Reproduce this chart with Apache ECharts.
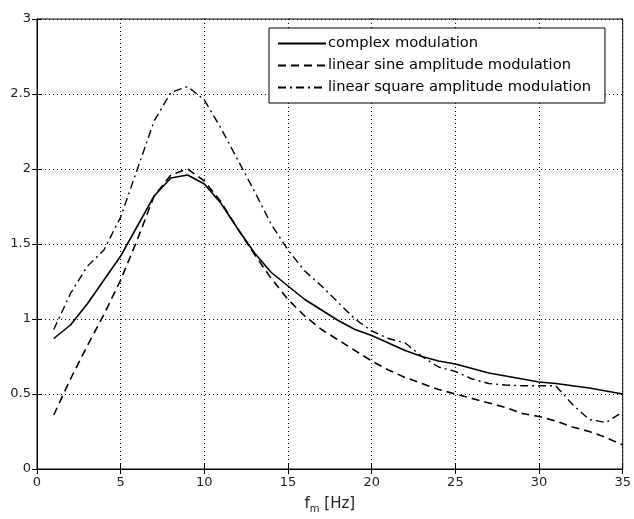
<!DOCTYPE html>
<html>
<head>
<meta charset="utf-8">
<script src="https://cdn.jsdelivr.net/npm/echarts@6/dist/echarts.min.js"></script>
<style>
html,body{margin:0;padding:0;background:#fff;}
#chart{width:634px;height:519px;}
</style>
</head>
<body>
<div id="chart"></div>
<script>
const freq = [1,2,3,4,5,6,7,8,9,10,11,12,13,14,15,16,17,18,19,20,21,22,23,24,25,26,27,28,29,30,31,32,33,34,35];
const complexMod = [0.87,0.96,1.10,1.26,1.42,1.62,1.82,1.94,1.96,1.90,1.77,1.60,1.44,1.31,1.22,1.13,1.06,0.99,0.93,0.89,0.84,0.79,0.75,0.72,0.70,0.67,0.64,0.62,0.60,0.58,0.57,0.555,0.54,0.52,0.50];
const sineMod = [0.36,0.60,0.82,1.03,1.26,1.53,1.82,1.96,2.00,1.92,1.78,1.60,1.43,1.27,1.13,1.02,0.93,0.86,0.79,0.72,0.66,0.61,0.57,0.53,0.50,0.47,0.44,0.41,0.37,0.35,0.32,0.28,0.25,0.21,0.16];
const squareMod = [0.93,1.17,1.35,1.46,1.68,2.00,2.32,2.51,2.55,2.46,2.27,2.06,1.85,1.63,1.46,1.32,1.22,1.11,1.00,0.92,0.87,0.84,0.75,0.68,0.65,0.60,0.57,0.56,0.555,0.555,0.555,0.43,0.33,0.31,0.38];
const seriesNames = ['complex modulation','linear sine amplitude modulation','linear square amplitude modulation'];
const xTicks = {min:0, max:35, interval:5};
const yTicks = {min:0, max:3, interval:0.5};

function pairs(ys){ return freq.map((x,i)=>[x, ys[i]]); }

const chart = echarts.init(document.getElementById('chart'), null, {renderer:'canvas'});
const font = 'DejaVu Sans';
const tickCommon = {
  axisLine:{show:true, lineStyle:{color:'#000', width:1}},
  axisTick:{show:true, inside:true, length:5, lineStyle:{color:'#000'}},
};
chart.setOption({
  animation:false,
  backgroundColor:'#fff',
  grid:{left:37, right:8, top:19, bottom:44, show:true, borderColor:'#000', borderWidth:1},
  legend:{
    orient:'vertical', left:269, top:28, width:336,
    itemWidth:48, itemHeight:10, itemGap:7,
    padding:[8,14,8,8],
    borderColor:'#000', borderWidth:1, backgroundColor:'#fff',
    itemStyle:{opacity:0},
    textStyle:{fontFamily:font, fontSize:14.7, color:'#000', padding:[0,0,0,-3]},
    data:seriesNames
  },
  xAxis:[{
    type:'value', min:xTicks.min, max:xTicks.max, interval:xTicks.interval,
    ...tickCommon,
    axisLabel:{fontFamily:font, fontSize:13, color:'#222', margin:7},
    splitLine:{show:true, lineStyle:{color:'#000', type:[1,3], width:1}},
    name:'{f|f}{s|m}{f| [Hz]}', nameLocation:'middle', nameGap:26,
    nameTextStyle:{rich:{f:{fontFamily:font, fontSize:15, color:'#222'}, s:{fontFamily:font, fontSize:10, color:'#222', verticalAlign:'bottom', padding:[9,0,0,0]}}}
  },{
    type:'value', position:'top', min:xTicks.min, max:xTicks.max, interval:xTicks.interval,
    ...tickCommon, axisLabel:{show:false}, splitLine:{show:false}
  }],
  yAxis:[{
    type:'value', min:yTicks.min, max:yTicks.max, interval:yTicks.interval,
    ...tickCommon,
    axisLabel:{fontFamily:font, fontSize:13, color:'#222', margin:6},
    splitLine:{show:true, lineStyle:{color:'#000', type:[1,3], width:1}}
  },{
    type:'value', position:'right', min:yTicks.min, max:yTicks.max, interval:yTicks.interval,
    ...tickCommon, axisLabel:{show:false}, splitLine:{show:false}
  }],
  series:[
    {name:seriesNames[0], type:'line', symbol:'none', data:pairs(complexMod),
     lineStyle:{color:'#000', width:1.6, type:'solid'}, itemStyle:{color:'#000'}},
    {name:seriesNames[1], type:'line', symbol:'none', data:pairs(sineMod),
     lineStyle:{color:'#000', width:1.6, type:[8,5]}, itemStyle:{color:'#000'}},
    {name:seriesNames[2], type:'line', symbol:'none', data:pairs(squareMod),
     lineStyle:{color:'#000', width:1.4, type:[8,4,2,4]}, itemStyle:{color:'#000'}}
  ]
});
</script>
</body>
</html>
